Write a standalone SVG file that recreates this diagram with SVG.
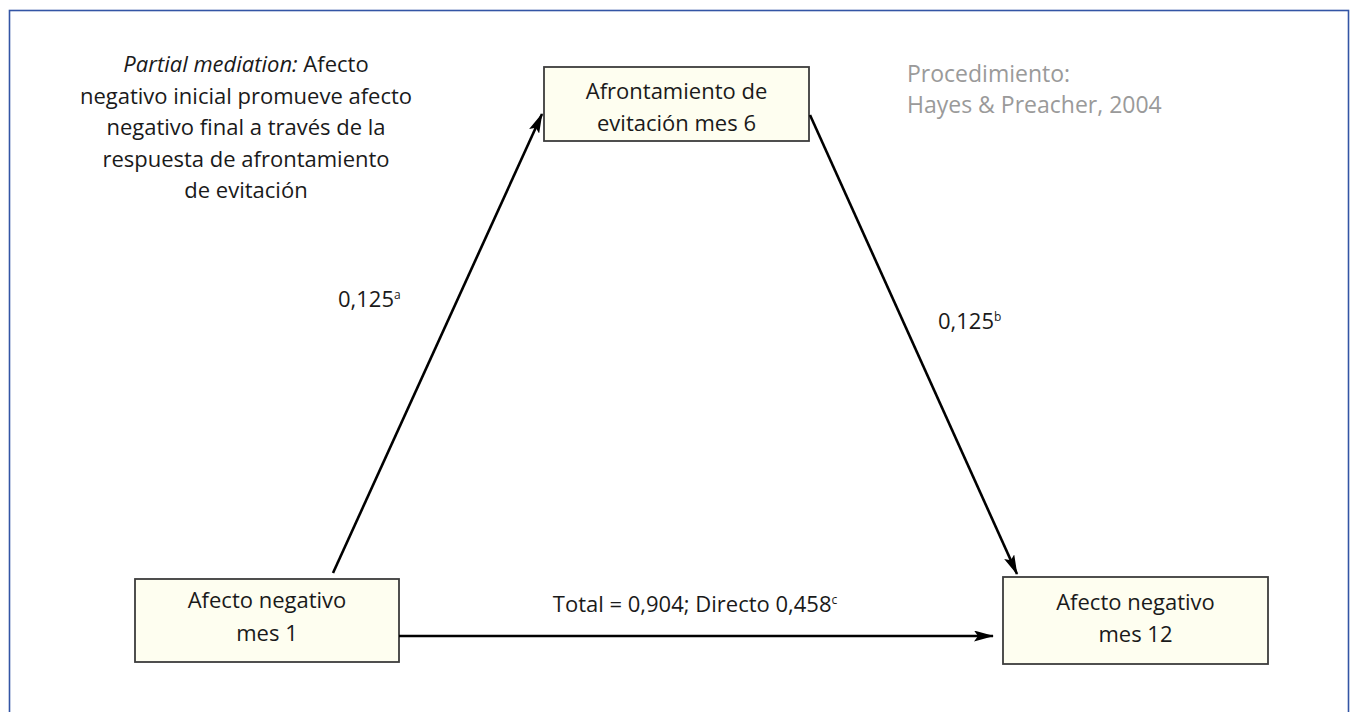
<svg xmlns="http://www.w3.org/2000/svg" width="1358" height="712" viewBox="0 0 1358 712">
<style>
  text { font-family: "Open Sans", "Noto Sans", "DejaVu Sans", sans-serif; font-size: 22px; fill: #1a1a1a; }
  .c { text-anchor: middle; }
  .grey { fill: #9a9a9a; font-size: 23px; }
  .box { fill: #fefef0; stroke: #3c3c3c; stroke-width: 1.8; }
  .edge { stroke: #000000; stroke-width: 2.6; fill: none; marker-end: url(#arrow); }
  .sup { font-size: 12px; }
</style>
<defs>
  <marker id="arrow" viewBox="0 0 20 11" refX="19" refY="5.5" markerWidth="20" markerHeight="11" markerUnits="userSpaceOnUse" orient="auto">
    <path d="M0,0 L20,5.5 L0,11 L4,5.5 Z" fill="#000000"/>
  </marker>
</defs>
<rect x="9.5" y="10.5" width="1339" height="720" fill="#ffffff" stroke="#3355a5" stroke-width="1.6"/>

<g id="note">
  <text class="c" x="246" y="72"><tspan font-style="italic">Partial mediation:</tspan> Afecto</text>
  <text class="c" x="246" y="103.5">negativo inicial promueve afecto</text>
  <text class="c" x="246" y="135">negativo final a través de la</text>
  <text class="c" x="246" y="166.5">respuesta de afrontamiento</text>
  <text class="c" x="246" y="198">de evitación</text>
</g>

<g id="procedimiento">
  <text class="grey" x="907" y="82">Procedimiento:</text>
  <text class="grey" x="907" y="113">Hayes &amp; Preacher, 2004</text>
</g>

<g id="node-mediador">
  <rect class="box" x="544" y="67" width="265" height="74"/>
  <text class="c" x="676.5" y="99">Afrontamiento de</text>
  <text class="c" x="676.5" y="131">evitación mes 6</text>
</g>

<g id="node-mes1">
  <rect class="box" x="135" y="579" width="264" height="83"/>
  <text class="c" x="267" y="608">Afecto negativo</text>
  <text class="c" x="267" y="641">mes 1</text>
</g>

<g id="node-mes12">
  <rect class="box" x="1003" y="577" width="265" height="87"/>
  <text class="c" x="1135.5" y="610">Afecto negativo</text>
  <text class="c" x="1135.5" y="642">mes 12</text>
</g>

<g id="connectors">
  <line class="edge" x1="333" y1="573" x2="542" y2="114"/>
  <line class="edge" x1="810" y1="115" x2="1017" y2="574"/>
  <line class="edge" x1="399" y1="636" x2="993" y2="636"/>
</g>

<g id="labels">
  <text x="338" y="307">0,125<tspan class="sup" dy="-8">a</tspan></text>
  <text x="938" y="329">0,125<tspan class="sup" dy="-8">b</tspan></text>
  <text class="c" x="695" y="612">Total = 0,904; Directo 0,458<tspan class="sup" dy="-8">c</tspan></text>
</g>
</svg>
